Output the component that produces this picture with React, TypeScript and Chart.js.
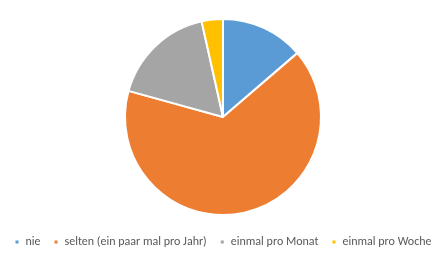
import React, { useEffect, useRef } from "react";
import { Chart, registerables } from "chart.js";

Chart.register(...registerables);

const categories = ["nie", "selten (ein paar mal pro Jahr)", "einmal pro Monat", "einmal pro Woche"];
const values = [13.7, 65.6, 17.2, 3.5];
const colors = ["#5B9BD5", "#ED7D31", "#A5A5A5", "#FFC000"];

const legendShift = {
  id: "legendShift",
  beforeInit(chart: any) {
    const legend = chart.legend;
    if (!legend) return;
    const origFit = legend.fit.bind(legend);
    legend.fit = function () {
      origFit();
      this.height += 5;
    };
    const origDraw = legend.draw.bind(legend);
    legend.draw = function () {
      const ctx = chart.ctx;
      ctx.save();
      ctx.translate(0, 7);
      origDraw();
      ctx.restore();
    };
  },
};

export default function App() {
  const ref = useRef<HTMLCanvasElement>(null);
  useEffect(() => {
    document.body.style.margin = "0";
    const chart = new Chart(ref.current!, {
      type: "pie",
      data: {
        labels: categories,
        datasets: [
          {
            data: values,
            backgroundColor: colors,
            borderColor: "#ffffff",
            borderWidth: 2,
          },
        ],
      },
      options: {
        animation: false,
        responsive: false,
        layout: { padding: { top: 18, bottom: 2 } },
        plugins: {
          tooltip: { enabled: false },
          legend: {
            position: "bottom",
            labels: {
              boxWidth: 5,
              boxHeight: 5,
              padding: 13,
              color: "#595959",
              font: { family: "Carlito, Lato, 'Liberation Sans', sans-serif", size: 12 },
            },
          },
        },
      },
      plugins: [legendShift],
    });
    return () => chart.destroy();
  }, []);
  return (
    <div style={{ width: 446, height: 258, background: "#fff" }}>
      <canvas ref={ref} width={446} height={258} />
    </div>
  );
}
